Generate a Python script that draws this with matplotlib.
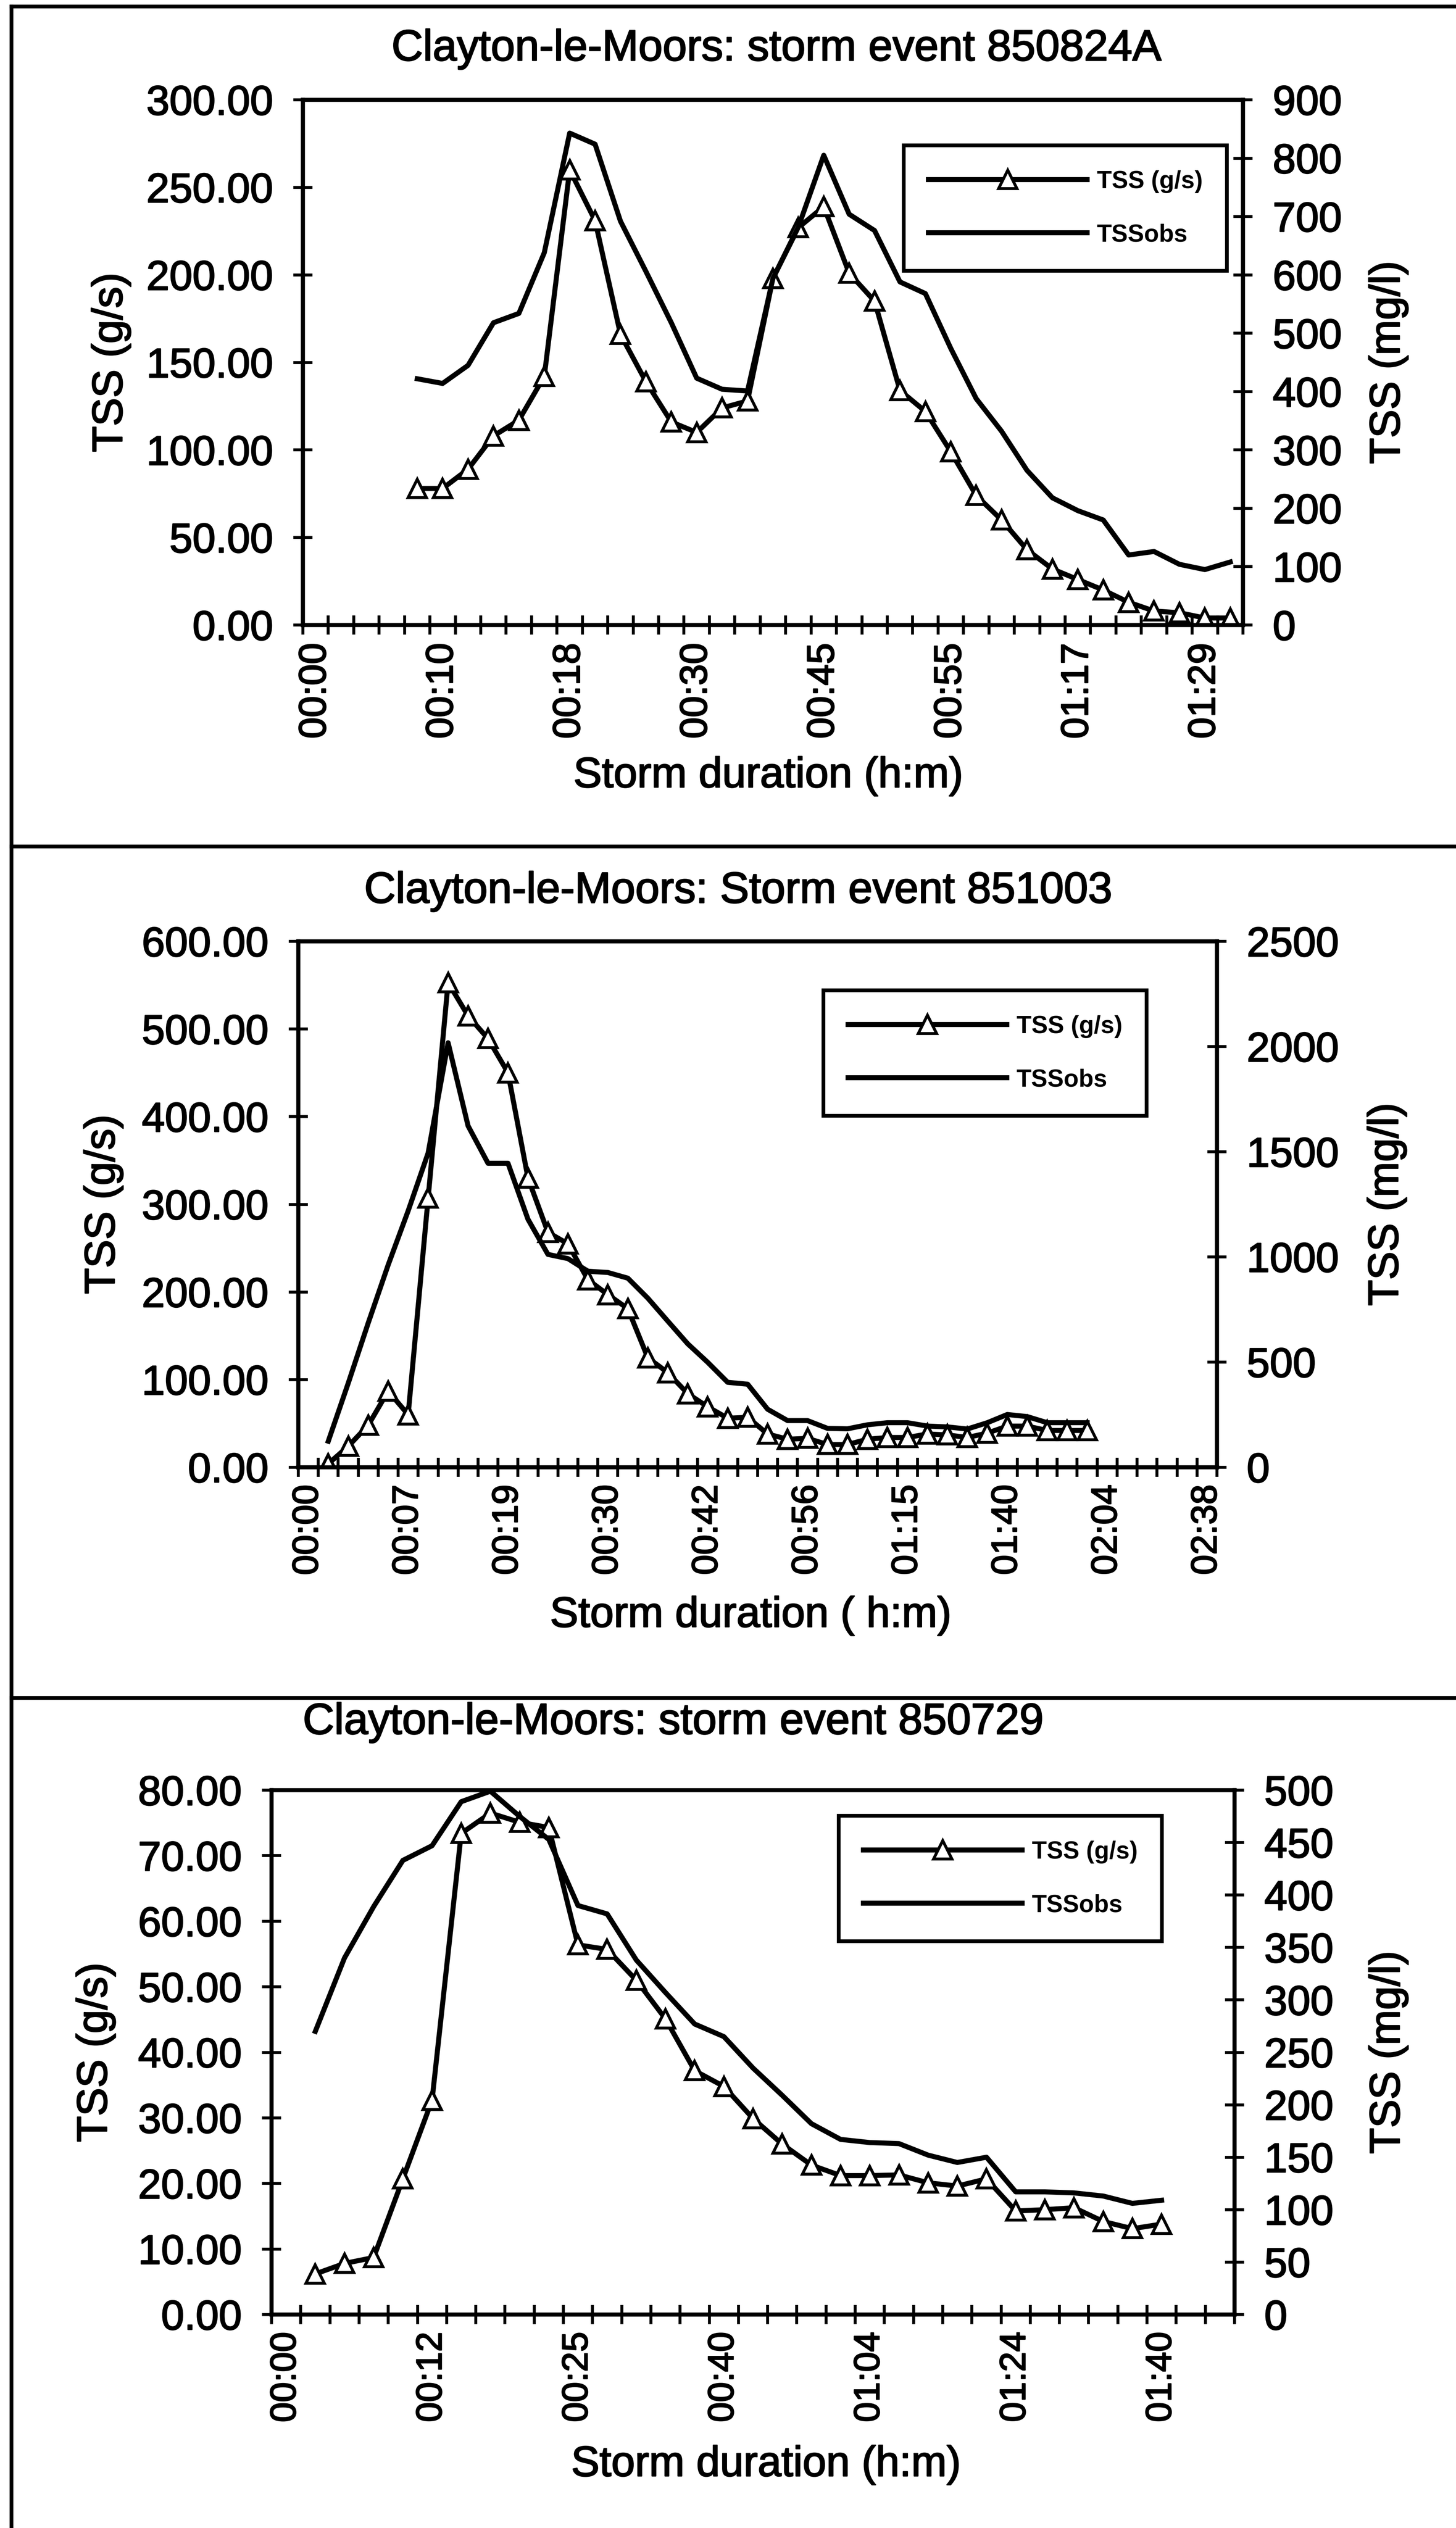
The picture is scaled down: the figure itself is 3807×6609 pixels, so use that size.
import matplotlib
matplotlib.use('Agg')
import matplotlib.pyplot as plt
import matplotlib.patheffects as pe
from matplotlib.lines import Line2D
from matplotlib.ticker import FormatStrFormatter, MultipleLocator

# ---- storm event 850824A ----
ev1_n_cats = 37
ev1_first = 4
ev1_ticklabels = ['00:00', '00:10', '00:18', '00:30', '00:45', '00:55', '01:17', '01:29']
ev1_tss_gs = [78, 78, 89, 108, 117, 142, 260, 231, 166, 139, 116, 110, 124, 128, 198, 227, 239,
              201, 185, 134, 122, 99, 74, 60, 43, 32, 26, 20, 13, 8, 7, 4, 4]
ev1_tss_obs = [422, 414, 445, 518, 534, 638, 843, 824, 692, 606, 518, 423, 404, 401, 594, 682, 805,
               704, 676, 588, 568, 474, 388, 332, 265, 218, 196, 180, 120, 126, 104, 95, 108]

# ---- storm event 851003 ----
ev2_n_cats = 46
ev2_first = 1
ev2_ticklabels = ['00:00', '00:07', '00:19', '00:30', '00:42', '00:56', '01:15', '01:40', '02:04', '02:38']
ev2_tss_gs = [4, 24, 48, 87, 60, 307, 553, 515, 489, 450, 330, 268, 255, 214, 197, 181, 125, 108, 84, 69,
              56, 57, 38, 32, 33, 26, 26, 32, 34, 34, 38, 37, 34, 39, 47, 47, 42, 42, 42]
ev2_tss_obs = [124, 400, 686, 962, 1219, 1494, 2018, 1623, 1445, 1445, 1179, 1012, 992, 932, 926, 899, 804,
               695, 587, 499, 404, 395, 276, 222, 222, 185, 183, 202, 212, 212, 196, 192, 182, 212, 251,
               241, 212, 212, 212]

# ---- storm event 850729 ----
ev3_n_cats = 33
ev3_first = 1
ev3_ticklabels = ['00:00', '00:12', '00:25', '00:40', '01:04', '01:24', '01:40']
ev3_tss_gs = [6.2, 7.8, 8.7, 20.7, 32.7, 73.4, 76.5, 75.1, 74.3, 56.4, 55.7, 51.0, 45.1, 37.2, 34.8,
              29.9, 26.0, 22.8, 21.2, 21.2, 21.3, 20.1, 19.6, 20.7, 15.8, 16.0, 16.3, 14.2, 13.1, 13.8]
ev3_tss_obs = [270, 340, 389, 433, 447, 489, 499, 475, 453, 390, 382, 338, 307, 277, 265, 235, 209, 182,
               167, 164, 163, 152, 145, 150, 117, 117, 116, 113, 106, 109]

W, H = 3807, 6610
DPI = 100

plt.rcParams['font.family'] = ['Liberation Sans', 'DejaVu Sans']

# slightly heavier glyphs, like the photocopied original
HEAVY = [pe.withStroke(linewidth=2.2, foreground='black')]


def fx(x):
    return x / W


def fy(y):
    return 1 - y / H


def draw_panel(fig, box, title, title_xy, n_cats, first, tss_gs, tss_obs, ticklabels,
               gs_lim, mgl_lim, xlabel, xlabel_xy, ylab_x, leg_xy, xt_size, xt_pad):
    left, top, right, bottom = box
    ax = fig.add_axes([fx(left), fy(bottom), (right - left) / W, (bottom - top) / H])
    ax2 = ax.twinx()

    cats = list(range(first, first + len(tss_gs)))
    l1, = ax.plot(cats, tss_gs, color='black', lw=9.5, marker='^', ms=35,
                  mfc='white', mec='black', mew=5.5, zorder=3)
    l2, = ax2.plot(cats, tss_obs, color='black', lw=9.5, zorder=3)

    ax.set_xlim(-0.5, n_cats - 0.5)
    ax.set_ylim(0, gs_lim[0])
    ax2.set_ylim(0, mgl_lim[0])
    ax.yaxis.set_major_locator(MultipleLocator(gs_lim[1]))
    ax.yaxis.set_major_formatter(FormatStrFormatter('%.2f'))
    ax2.yaxis.set_major_locator(MultipleLocator(mgl_lim[1]))
    ax2.yaxis.set_major_formatter(FormatStrFormatter('%d'))

    # labels sit in the middle of every fifth category, ticks between categories
    ax.set_xticks([i * 5 for i in range(len(ticklabels))])
    ax.set_xticklabels(ticklabels, rotation=90, fontsize=xt_size)
    ax.set_xticks([k - 0.5 for k in range(n_cats + 1)], minor=True)
    ax.tick_params(axis='x', which='major', length=0, pad=xt_pad)
    ax.tick_params(axis='x', which='minor', direction='inout', length=36, width=5.5)
    ax.tick_params(axis='y', direction='inout', length=36, width=5.5, labelsize=78, pad=38)
    ax2.tick_params(axis='y', direction='inout', length=36, width=5.5, labelsize=78, pad=38)

    for lbl in ax.get_xticklabels() + ax.get_yticklabels() + ax2.get_yticklabels():
        lbl.set_path_effects(HEAVY)

    for a in (ax, ax2):
        for sp in a.spines.values():
            sp.set_linewidth(7.5)
            sp.set_color('black')

    txt_kw = dict(ha='center', va='center', path_effects=HEAVY)
    fig.text(fx(title_xy[0]), fy(title_xy[1]), title, fontsize=82, **txt_kw)
    fig.text(fx(xlabel_xy[0]), fy(xlabel_xy[1]), xlabel, fontsize=80, **txt_kw)
    ymid = fy((top + bottom) / 2)
    fig.text(fx(ylab_x[0]), ymid, 'TSS (g/s)', fontsize=80, rotation=90, **txt_kw)
    fig.text(fx(ylab_x[1]), ymid, 'TSS (mg/l)', fontsize=80, rotation=90, **txt_kw)

    anchor = ((leg_xy[0] - left) / (right - left), (bottom - leg_xy[1]) / (bottom - top))
    leg = ax2.legend([l1, l2], ['TSS (g/s)', 'TSSobs'], loc='upper left', bbox_to_anchor=anchor,
                     borderaxespad=0, fancybox=False, framealpha=1, edgecolor='black',
                     prop={'weight': 'bold', 'size': 46}, handlelength=6.5, handletextpad=0.4,
                     labelspacing=1.25, borderpad=1.0, numpoints=1)
    leg.get_frame().set_linewidth(7)
    return ax, ax2


fig = plt.figure(figsize=(W / DPI, H / DPI), dpi=DPI)

draw_panel(fig, (792, 262, 3250, 1635), 'Clayton-le-Moors: storm event 850824A', (2030, 130),
           ev1_n_cats, ev1_first, ev1_tss_gs, ev1_tss_obs, ev1_ticklabels,
           (300, 50), (900, 100), 'Storm duration (h:m)', (2009, 2030), (290, 3630),
           (2363, 381), 72, 34)

draw_panel(fig, (780, 2462, 3182, 3837), 'Clayton-le-Moors: Storm event 851003', (1930, 2332),
           ev2_n_cats, ev2_first, ev2_tss_gs, ev2_tss_obs, ev2_ticklabels,
           (600, 100), (2500, 500), 'Storm duration ( h:m)', (1963, 4225), (270, 3626),
           (2153, 2590), 68, 32)

draw_panel(fig, (710, 4681, 3228, 6052), 'Clayton-le-Moors: storm event 850729', (1760, 4505),
           ev3_n_cats, ev3_first, ev3_tss_gs, ev3_tss_obs, ev3_ticklabels,
           (80, 10), (500, 50), 'Storm duration (h:m)', (2003, 6445), (250, 3630),
           (2193, 4748), 68, 32)

# page frame around the three charts
frame_kw = dict(color='black', lw=7, transform=fig.transFigure)
fig.add_artist(Line2D([fx(30), 1], [fy(18), fy(18)], **frame_kw))
fig.add_artist(Line2D([fx(30), fx(30)], [fy(18), 0], **frame_kw))
fig.add_artist(Line2D([fx(30), 1], [fy(2214), fy(2214)], **frame_kw))
fig.add_artist(Line2D([fx(30), 1], [fy(4440), fy(4440)], **frame_kw))

fig.savefig('out.png', dpi=DPI, facecolor='white')
